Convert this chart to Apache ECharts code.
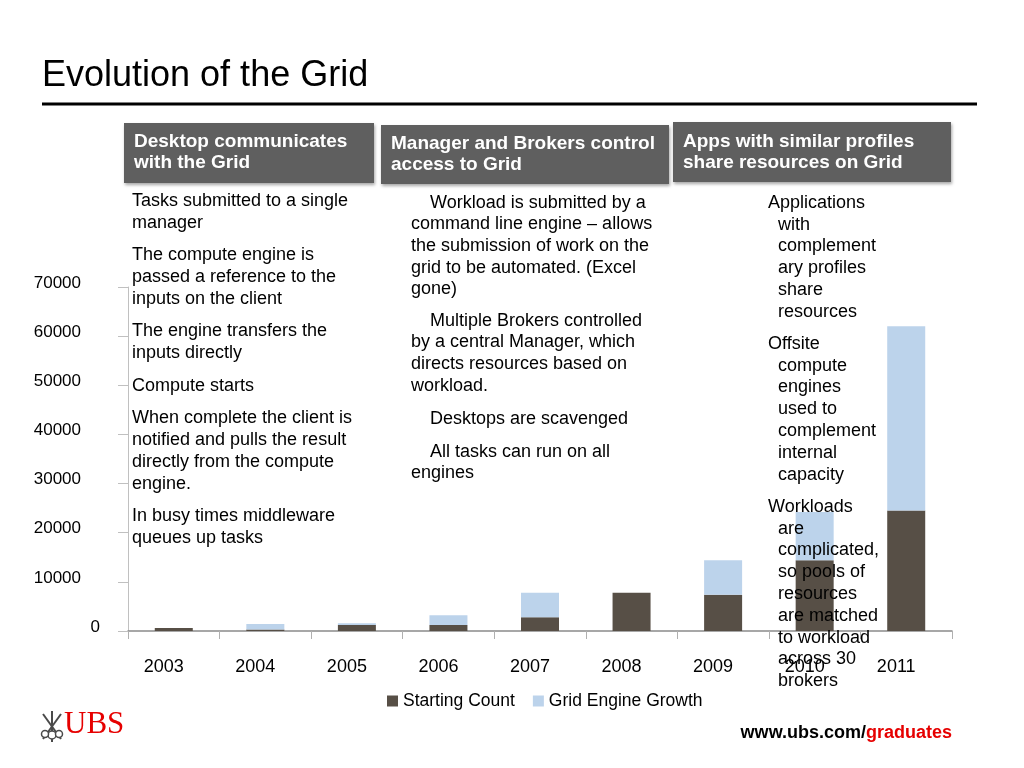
<!DOCTYPE html>
<html>
<head>
<meta charset="utf-8">
<script src="https://cdn.jsdelivr.net/npm/echarts@6/dist/echarts.min.js"></script>
<style>
html,body{margin:0;padding:0;background:#fff;}
#chart{width:1024px;height:768px;}
</style>
</head>
<body>
<div id="chart"></div>
<script>
// ---------- data ----------
const categories = ['2003','2004','2005','2006','2007','2008','2009','2010','2011'];
const startingCount = [600, 300, 1200, 1200, 2800, 7800, 7400, 14400, 24500];
const gridEngineGrowth = [0, 1100, 400, 2000, 5000, 0, 7000, 9800, 37500];
const seriesNames = ['Starting Count', 'Grid Engine Growth'];
const yTicks = { min: 0, max: 70000, interval: 10000 };

const titleText = 'Evolution of the Grid';
const headers = [
  ['Desktop communicates', 'with the Grid'],
  ['Manager and Brokers control', 'access to Grid'],
  ['Apps with similar profiles', 'share resources on Grid']
];
const col1 = [
  ['Tasks submitted to a single', 'manager'],
  ['The compute engine is', 'passed a reference to the', 'inputs on the client'],
  ['The engine transfers the', 'inputs directly'],
  ['Compute starts'],
  ['When complete the client is', 'notified and pulls the result', 'directly from the compute', 'engine.'],
  ['In busy times middleware', 'queues up tasks']
];
const col2 = [
  ['Workload is submitted by a', 'command line engine \u2013 allows', 'the submission of work on the', 'grid to be automated. (Excel', 'gone)'],
  ['Multiple Brokers controlled', 'by a central Manager, which', 'directs resources based on', 'workload.'],
  ['Desktops are scavenged'],
  ['All tasks can run on all', 'engines']
];
const col3 = [
  ['Applications', 'with', 'complement', 'ary profiles', 'share', 'resources'],
  ['Offsite', 'compute', 'engines', 'used to', 'complement', 'internal', 'capacity'],
  ['Workloads', 'are', 'complicated,', 'so pools of', 'resources', 'are matched', 'to workload', 'across 30', 'brokers']
];
const logoText = 'UBS';
const urlMain = 'www.ubs.com/';
const urlRed = 'graduates';

// ---------- layout / styles ----------
const FONT = '"Liberation Sans", Arial, Helvetica, sans-serif';
const DARK = '#574f46';
const LIGHT = '#bcd3eb';

const graphics = [];
function txt(x, y, text, opts) {
  graphics.push({
    type: 'text', x: x, y: y, z: 100,
    style: Object.assign({
      text: text, fill: '#000', fontSize: 18, fontFamily: FONT, lineHeight: 22
    }, opts || {})
  });
}
// paragraph: first line at firstX, remaining at restX
function para(lines, restX, top, firstX, lh) {
  txt(firstX, top, lines[0], { lineHeight: lh });
  if (lines.length > 1) txt(restX, top + lh, lines.slice(1).join('\n'), { lineHeight: lh });
}

// title + rule
txt(42, 56, titleText, { fontSize: 36, lineHeight: 40 });
graphics.push({ type: 'rect', z: 100, shape: { x: 42, y: 102.5, width: 935, height: 3 }, style: { fill: '#000' } });

// header boxes
const boxes = [
  { x: 124, y: 123, w: 250, h: 60, tx: 134, ty: 131 },
  { x: 381, y: 125, w: 288, h: 59, tx: 391, ty: 133 },
  { x: 673, y: 122, w: 278, h: 60, tx: 683, ty: 131 }
];
boxes.forEach((b, i) => {
  graphics.push({
    type: 'rect', z: 99, shape: { x: b.x, y: b.y, width: b.w, height: b.h },
    style: { fill: '#5f5f5f', shadowBlur: 3, shadowColor: 'rgba(0,0,0,0.35)', shadowOffsetX: 1, shadowOffsetY: 2 }
  });
  txt(b.tx, b.ty, headers[i].join('\n'), { fill: '#fff', fontWeight: 'bold', fontSize: 19, lineHeight: 21 });
});

// column 1
const col1Tops = [190, 244, 320, 375, 407, 505];
col1.forEach((p, i) => para(p, 132, col1Tops[i], 132, 22));
// column 2 (first-line indent)
const col2Tops = [192, 310, 408, 441];
col2.forEach((p, i) => para(p, 411, col2Tops[i], 430, 21.6));
// column 3 (hanging indent)
const col3Tops = [192, 333, 496];
col3.forEach((p, i) => para(p, 778, col3Tops[i], 768, 21.8));

// UBS logo (keys + text)
const keyColor = '#4a4a4a';
[[52, 711, 52, 742], [43, 714, 61, 739], [61, 714, 43, 739]].forEach(s => {
  graphics.push({ type: 'line', z: 100, shape: { x1: s[0], y1: s[1], x2: s[2], y2: s[3] }, style: { stroke: keyColor, lineWidth: 2 } });
});
[[52, 735, 4], [45, 734, 3.5], [59, 734, 3.5]].forEach(c => {
  graphics.push({ type: 'circle', z: 100, shape: { cx: c[0], cy: c[1], r: c[2] }, style: { fill: '#fff', stroke: keyColor, lineWidth: 1.5 } });
});
txt(64, 709, logoText, { fill: '#e60000', fontSize: 31, fontFamily: '"Liberation Serif", "Times New Roman", serif', lineHeight: 32 });

// URL
graphics.push({
  type: 'text', z: 100, x: 952, y: 724,
  style: {
    text: '{a|' + urlMain + '}{b|' + urlRed + '}', align: 'right',
    rich: {
      a: { fontSize: 18, fontWeight: 'bold', fontFamily: FONT, fill: '#000' },
      b: { fontSize: 18, fontWeight: 'bold', fontFamily: FONT, fill: '#e60000' }
    }
  }
});

const chart = echarts.init(document.getElementById('chart'), null, { renderer: 'canvas' });
chart.setOption({
  animation: false,
  backgroundColor: '#fff',
  grid: { left: 128, right: 72, top: 287, bottom: 137, containLabel: false },
  legend: {
    data: seriesNames, left: 382, top: 687,
    itemWidth: 11, itemHeight: 11, itemGap: 18, icon: 'rect',
    textStyle: { fontSize: 17.5, fontFamily: FONT, color: '#000' }
  },
  xAxis: {
    type: 'category', data: categories,
    axisLine: { lineStyle: { color: '#8a8a8a', width: 1.5 } },
    axisTick: { show: true, length: 8, lineStyle: { color: '#b0b0b0' } },
    axisLabel: { fontSize: 18, fontFamily: FONT, color: '#000', margin: 27, padding: [0, 20, 0, 0] }
  },
  yAxis: {
    type: 'value', min: yTicks.min, max: yTicks.max, interval: yTicks.interval,
    splitLine: { show: false },
    axisLine: { show: true, lineStyle: { color: '#c0c0c0' } },
    axisTick: { show: true, length: 10, lineStyle: { color: '#c0c0c0' } },
    axisLabel: {
      margin: 28, color: '#000', fontSize: 17, fontFamily: FONT,
      formatter: v => v === 0 ? '{z|0}' : '{n|' + v + '}',
      rich: {
        n: { fontSize: 17, fontFamily: FONT, padding: [0, 19, 8, 0] },
        z: { fontSize: 17, fontFamily: FONT, padding: [0, 0, 8, 0] }
      }
    }
  },
  series: [
    { name: seriesNames[0], type: 'bar', stack: 'total', data: startingCount, barWidth: 38, itemStyle: { color: DARK } },
    { name: seriesNames[1], type: 'bar', stack: 'total', data: gridEngineGrowth, barWidth: 38, itemStyle: { color: LIGHT } }
  ],
  graphic: graphics
});
</script>
</body>
</html>
